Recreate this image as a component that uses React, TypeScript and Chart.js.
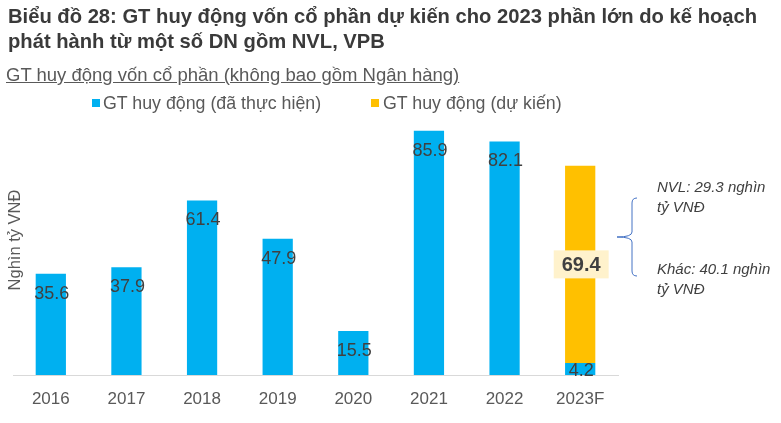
import React, { useEffect, useRef } from "react";
import { Chart, registerables } from "chart.js";

Chart.register(...registerables);

const categories = ["2016", "2017", "2018", "2019", "2020", "2021", "2022", "2023F"];
const realizedValues = [35.6, 37.9, 61.4, 47.9, 15.5, 85.9, 82.1, 4.2];
const plannedValues = [null, null, null, null, null, null, null, 69.4];
const seriesNames = ["GT huy động (đã thực hiện)", "GT huy động (dự kiến)"];
const titleLines = [
  "Biểu đồ 28: GT huy động vốn cổ phần dự kiến cho 2023 phần lớn do kế hoạch",
  "phát hành từ một số DN gồm NVL, VPB",
];
const subtitle = "GT huy động vốn cổ phần (không bao gồm Ngân hàng)";
const yAxisTitle = "Nghìn tỷ VNĐ";
const noteNVL = ["NVL: 29.3 nghìn", "tỷ VNĐ"];
const noteOther = ["Khác: 40.1 nghìn", "tỷ VNĐ"];

const BLUE = "#00B0F0";
const ORANGE = "#FFC000";
const FONT = "'Liberation Sans', Arial, sans-serif";

const labelPlugin = {
  id: "barLabels",
  afterDatasetsDraw(chart: any) {
    const ctx = chart.ctx;
    ctx.save();
    const m0 = chart.getDatasetMeta(0);
    ctx.font = `18px ${FONT}`;
    ctx.fillStyle = "#404040";
    ctx.textAlign = "center";
    ctx.textBaseline = "middle";
    m0.data.forEach((bar: any, i: number) => {
      const v = realizedValues[i];
      if (v == null) return;
      const y = Math.min(bar.y + 20, bar.base - 4);
      ctx.fillText(String(v), bar.x + 1, y);
    });
    const m1 = chart.getDatasetMeta(1);
    m1.data.forEach((bar: any, i: number) => {
      const v = plannedValues[i];
      if (v == null) return;
      const cy = (bar.y + bar.base) / 2;
      ctx.font = `bold 20px ${FONT}`;
      const w = ctx.measureText(String(v)).width + 16;
      ctx.fillStyle = "#FFF2CC";
      ctx.fillRect(bar.x + 1 - w / 2, cy - 14, w, 28);
      ctx.fillStyle = "#404040";
      ctx.fillText(String(v), bar.x + 1, cy + 1);
    });
    ctx.restore();
  },
};

export default function App() {
  const ref = useRef<HTMLCanvasElement>(null);
  useEffect(() => {
    if (!ref.current) return;
    const chart = new Chart(ref.current, {
      type: "bar",
      data: {
        labels: categories,
        datasets: [
          { label: seriesNames[0], data: realizedValues, backgroundColor: BLUE, barPercentage: 0.4, categoryPercentage: 1 },
          { label: seriesNames[1], data: plannedValues as any, backgroundColor: ORANGE, barPercentage: 0.4, categoryPercentage: 1 },
        ],
      },
      options: {
        responsive: false,
        animation: false,
        layout: { padding: { left: 13, right: 163, top: 90.6, bottom: 0 } },
        plugins: { legend: { display: false }, tooltip: { enabled: false }, title: { display: false } },
        scales: {
          x: {
            stacked: true,
            grid: { display: false, drawTicks: false },
            border: { display: true, color: "#D9D9D9", width: 1 },
            ticks: { color: "#595959", font: { family: FONT, size: 17 }, padding: 14 },
            afterFit: (scale: any) => {
              scale.height = 48;
            },
          },
          y: { stacked: true, display: false, min: 0, max: 100 },
        },
      },
      plugins: [labelPlugin],
    });
    return () => chart.destroy();
  }, []);

  const abs = (s: React.CSSProperties): React.CSSProperties => ({ position: "absolute", whiteSpace: "nowrap", ...s });

  return (
    <div style={{ position: "fixed", left: 0, top: 0, width: 781, height: 423, background: "#fff", fontFamily: FONT, overflow: "hidden" }}>
      <canvas ref={ref} width={781} height={423} style={{ position: "absolute", left: 0, top: 0 }} />
      <div style={abs({ left: 8, top: 4, fontSize: 20.2, fontWeight: "bold", color: "#3A3A3A", lineHeight: "25px" })}>
        {titleLines[0]}
        <br />
        {titleLines[1]}
      </div>
      <div style={abs({ left: 6, top: 64, fontSize: 18.5, color: "#595959", textDecoration: "underline", lineHeight: "22px" })}>{subtitle}</div>
      <div style={abs({ left: 92, top: 99, width: 8, height: 8, background: BLUE })} />
      <div style={abs({ left: 103, top: 92, fontSize: 17.8, color: "#595959", lineHeight: "22px" })}>{seriesNames[0]}</div>
      <div style={abs({ left: 371, top: 99, width: 8, height: 8, background: ORANGE })} />
      <div style={abs({ left: 383, top: 92, fontSize: 17.8, color: "#595959", lineHeight: "22px" })}>{seriesNames[1]}</div>
      <div
        style={abs({
          left: 14,
          top: 240,
          fontSize: 16.5,
          color: "#595959",
          lineHeight: "20px",
          transform: "translate(-50%, -50%) rotate(-90deg)",
        })}
      >
        {yAxisTitle}
      </div>
      <svg width={781} height={423} style={{ position: "absolute", left: 0, top: 0, pointerEvents: "none" }}>
        <path
          d="M 637 198 Q 632 198 632 203 L 632 232 Q 632 237 617 237 Q 632 237 632 242 L 632 271 Q 632 276 637 276"
          fill="none"
          stroke="#4472C4"
          strokeWidth={1}
        />
      </svg>
      <div style={abs({ left: 657, top: 177, fontSize: 15, fontStyle: "italic", color: "#404040", lineHeight: "20px" })}>
        {noteNVL[0]}
        <br />
        {noteNVL[1]}
      </div>
      <div style={abs({ left: 657, top: 259, fontSize: 15, fontStyle: "italic", color: "#404040", lineHeight: "20px" })}>
        {noteOther[0]}
        <br />
        {noteOther[1]}
      </div>
    </div>
  );
}
